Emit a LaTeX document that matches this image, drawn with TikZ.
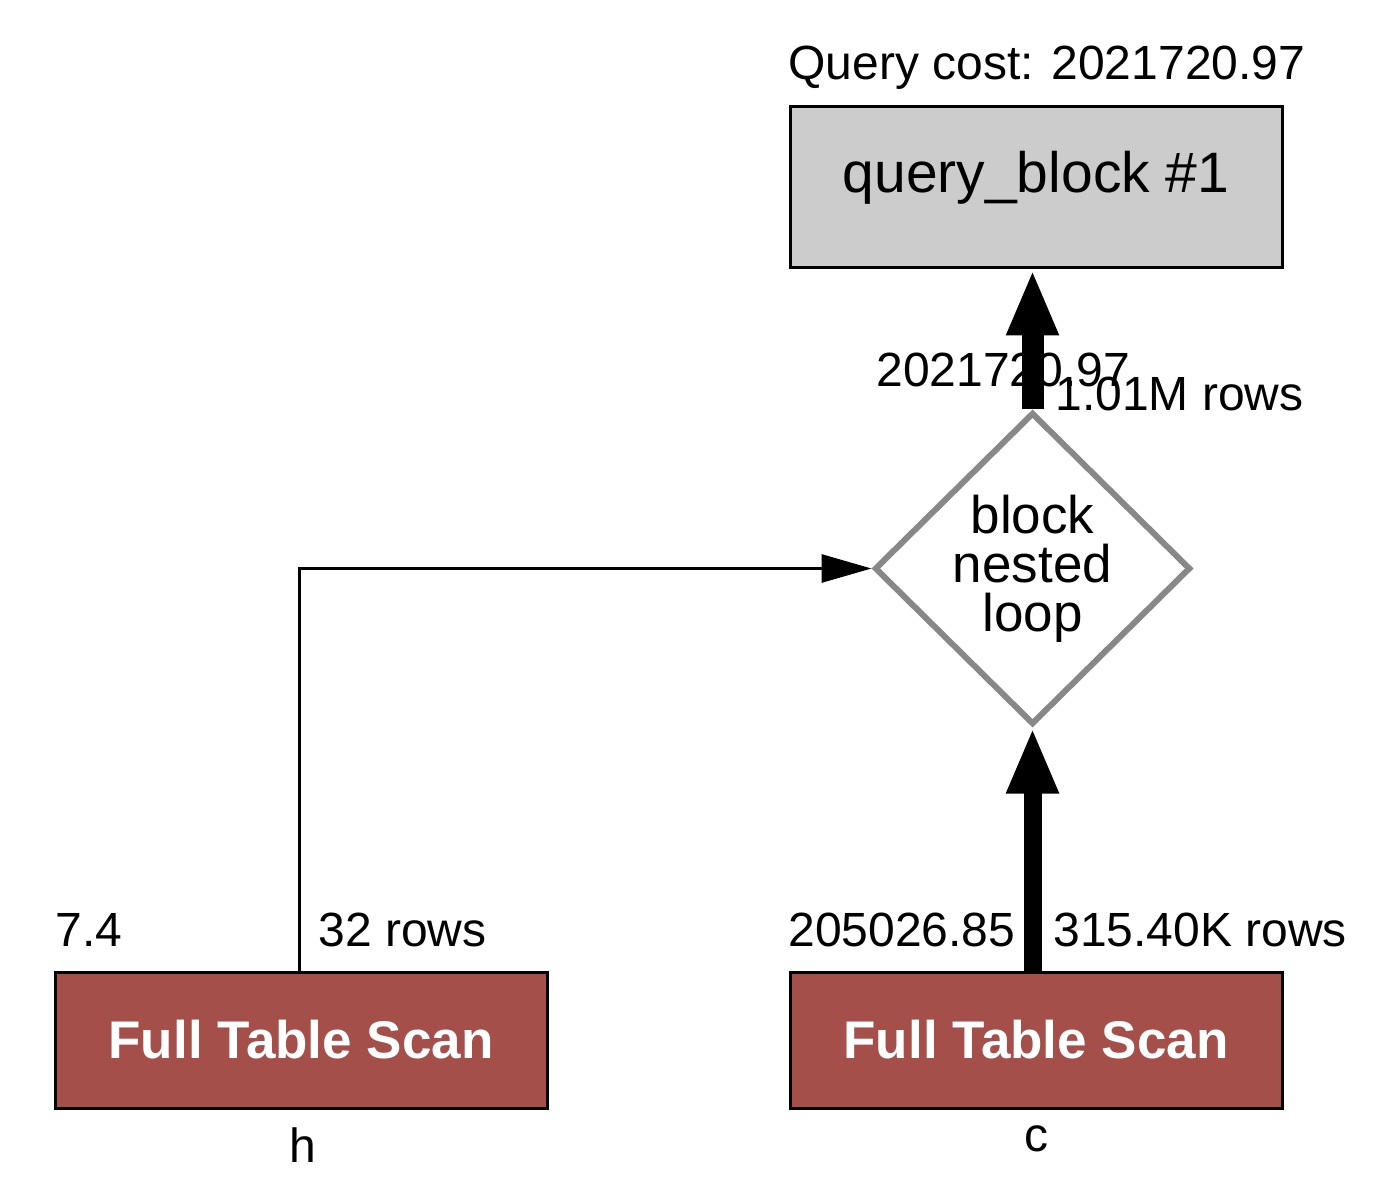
\documentclass[tikz,border=0pt]{standalone}
\usepackage{fontspec}
\setmainfont{Liberation Sans}
\usetikzlibrary{arrows.meta,shapes.geometric}
\definecolor{scanred}{HTML}{A44F4A}
\definecolor{qgray}{HTML}{CCCCCC}
\definecolor{dgray}{HTML}{888888}
\begin{document}
\begin{tikzpicture}[x=0.5pt,y=-0.5pt,
  lbl/.style={font=\fontsize{24pt}{28pt}\selectfont, inner sep=0pt},
  scanbox/.style={draw=black, line width=1.5pt, fill=scanred, minimum width=246pt,
    minimum height=68pt, inner sep=0pt, text=white,
    font=\fontsize{26.5pt}{30pt}\selectfont\bfseries},
  qbox/.style={draw=black, line width=1.5pt, fill=qgray, minimum width=246pt,
    minimum height=80.5pt, inner sep=0pt, text height=20pt, text depth=14.5pt,
    font=\fontsize{28.5pt}{32pt}\selectfont},
  joinbox/.style={diamond, draw=dgray, line width=3pt, fill=white, inner sep=0pt,
    minimum width=158pt, minimum height=156pt, align=center,
    font=\fontsize{26.5pt}{24.5pt}\selectfont},
  thinflow/.style={line width=1.5pt, -{Triangle[length=25pt,width=14pt]}},
  bigflow/.style={line width=11pt, -{Triangle[length=33pt,width=24pt]}},
  midflow/.style={line width=9pt, -{Triangle[length=33pt,width=24pt]}}
]
\useasboundingbox (0,0) rectangle (1390,1186);
\node[qbox] (qb) at (1036,187.5) {query\_block \#1};
\node[joinbox] (nl) at (1032.5,568.5) {block\\nested\\loop};
\node[scanbox] (h) at (301,1040) {Full Table Scan};
\node[scanbox] (c) at (1036,1040) {Full Table Scan};
% connectors
\draw[bigflow] (nl.north) -- (qb.south -| nl.north);
\draw[midflow] (nl.south |- c.north) -- (nl.south);
\draw[thinflow] (h.north -| 299,0) |- (nl.west);
% labels
\node[lbl, anchor=base west] (qc) at (788,80) {Query cost: 2021720.97};
\node[lbl, anchor=base west] (tcost) at (876,387) {2021720.97};
\node[lbl, anchor=base west] (trows) at (1055,411) {1.01M rows};
\node[lbl, anchor=base west] (hcost) at (55,946) {7.4};
\node[lbl, anchor=base west] (hrows) at (318,946) {32 rows};
\node[lbl, anchor=base west] (ccost) at (788,946) {205026.85};
\node[lbl, anchor=base west] (crows) at (1053,946) {315.40K rows};
\node[lbl, anchor=base] (hname) at (303,1162) {h};
\node[lbl, anchor=base] (cname) at (1036,1151) {c};
\end{tikzpicture}
\end{document}
